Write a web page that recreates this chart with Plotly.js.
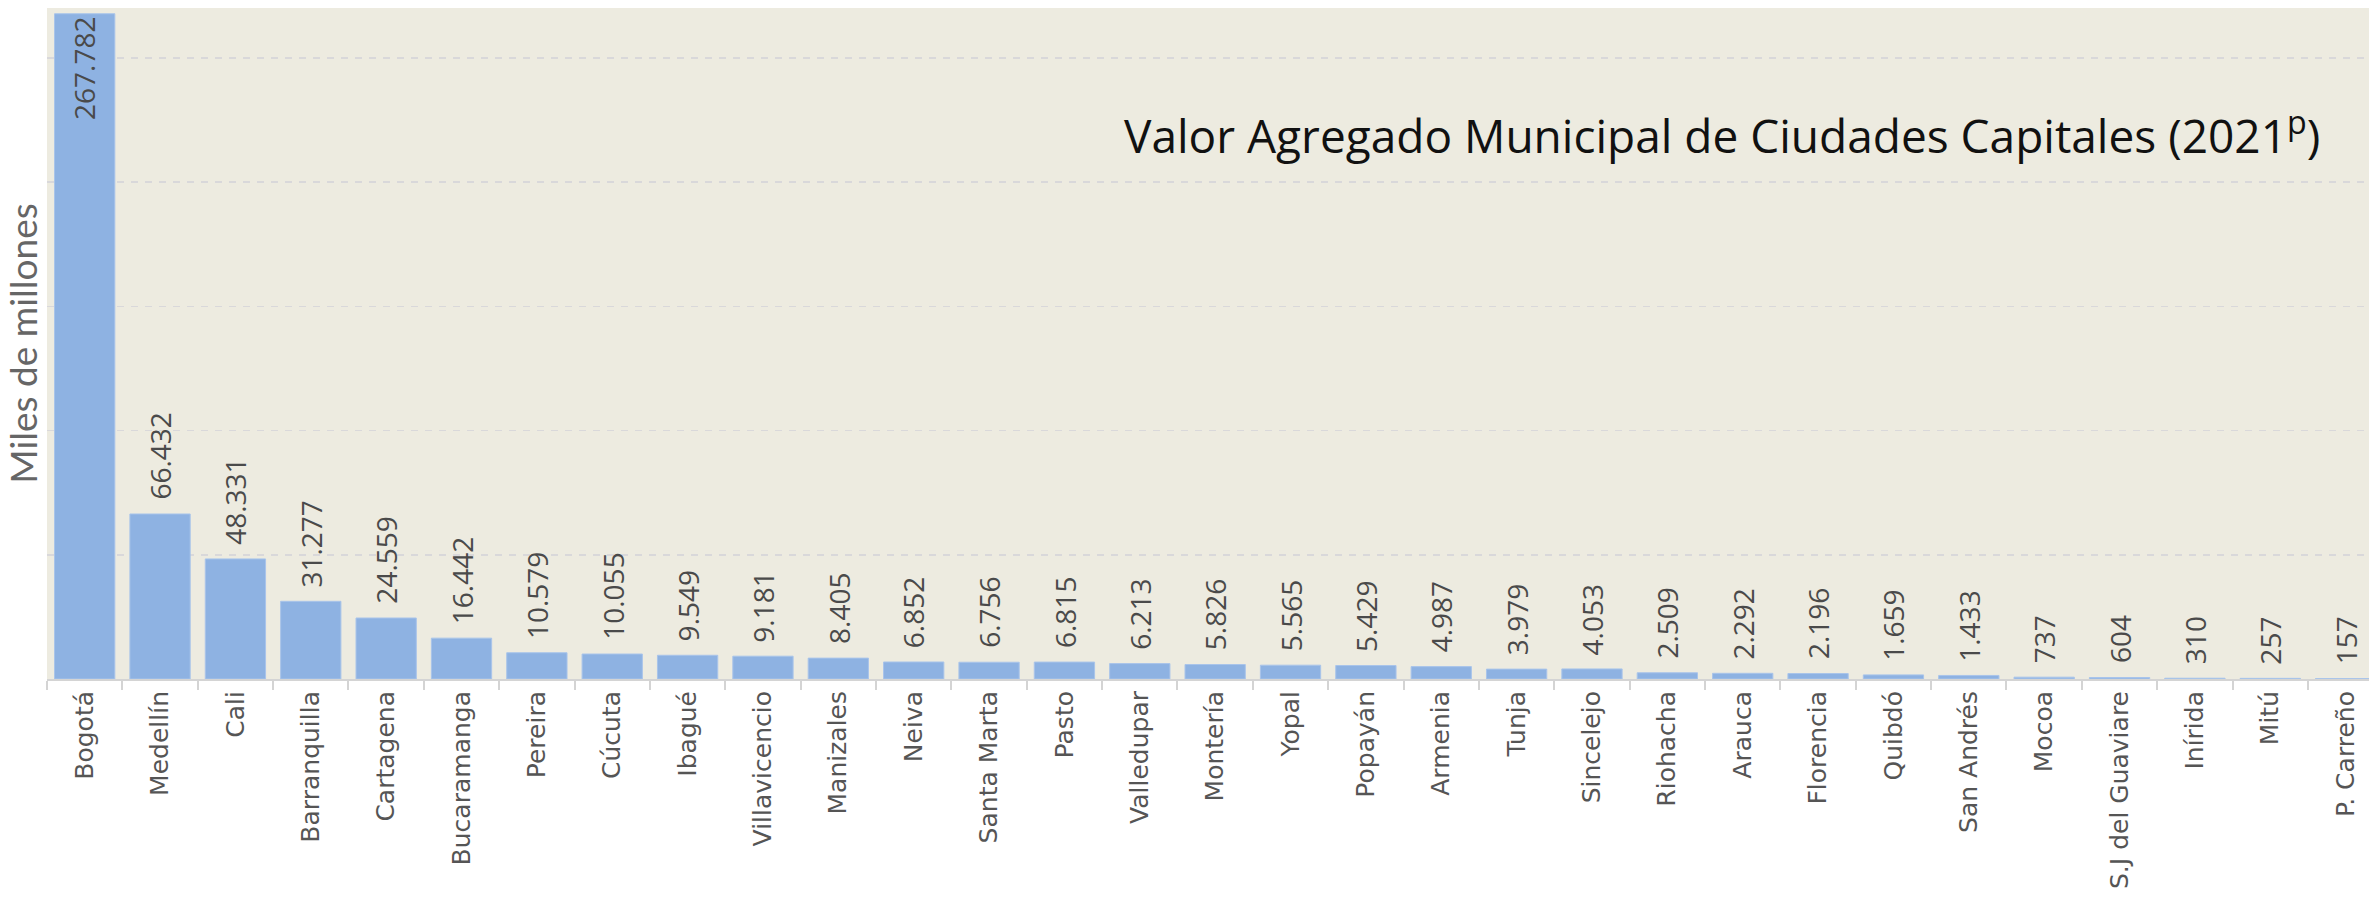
<!DOCTYPE html>
<html>
<head>
<meta charset="utf-8">
<script src="https://cdn.plot.ly/plotly-3.0.1.min.js"></script>
<style>
html,body{margin:0;padding:0;overflow:hidden;background:#fff;}
#chart{width:2369px;height:899px;}
</style>
</head>
<body>
<div id="chart"></div>
<script>
const cities = ["Bogotá","Medellín","Cali","Barranquilla","Cartagena","Bucaramanga","Pereira","Cúcuta","Ibagué","Villavicencio","Manizales","Neiva","Santa Marta","Pasto","Valledupar","Montería","Yopal","Popayán","Armenia","Tunja","Sincelejo","Riohacha","Arauca","Florencia","Quibdó","San Andrés","Mocoa","S.J del Guaviare","Inírida","Mitú","P. Carreño"];
const values = [267782,66432,48331,31277,24559,16442,10579,10055,9549,9181,8405,6852,6756,6815,6213,5826,5565,5429,4987,3979,4053,2509,2292,2196,1659,1433,737,604,310,257,157];
const chartTitle = "Valor Agregado Municipal de Ciudades Capitales (2021<sup>p</sup>)";
const yTitle = "Miles de millones";

const yMax = 270100;
function fmt(v){ return String(v).replace(/\B(?=(\d{3})+(?!\d))/g, "."); }

const labelFont = {family:"Open Sans", size:28, color:"#4a4a4a"};
const annotations = cities.map((c,i)=>{
  const inside = values[i] > yMax*0.8;
  return {
    x: c, y: values[i], xref:"x", yref:"y",
    text: fmt(values[i]), showarrow:false, textangle:-90,
    xanchor:"center", yanchor: inside ? "top" : "bottom",
    yshift: inside ? -1 : 12,
    font: labelFont
  };
});
annotations.push({
  xref:"paper", yref:"paper", x:0.9797, y:0.813,
  xanchor:"right", yanchor:"middle", showarrow:false,
  text: chartTitle,
  font:{family:"Open Sans", size:46, color:"#111"}
});

const trace = {
  type:"bar", x: cities, y: values,
  marker:{color:"#8EB2E2", line:{color:"#A9C4EA", width:1}},
  hoverinfo:"skip"
};

const layout = {
  width:2369, height:899,
  margin:{l:47, r:0, t:8, b:220},
  paper_bgcolor:"#ffffff", plot_bgcolor:"#EDEBE0",
  bargap:0.2,
  showlegend:false,
  xaxis:{
    type:"category", range:[-0.5, 30.31],
    tickangle:-90, tickson:"boundaries", ticks:"outside", ticklen:9, tickwidth:2, tickcolor:"#D4D4D4",
    showline:true, linecolor:"#D4D4D4", linewidth:2,
    showgrid:false, zeroline:false,
    tickfont:{family:"DejaVu Sans", size:25, color:"#555"},
    automargin:false
  },
  yaxis:{
    range:[0, yMax], tick0:0, dtick:50000,
    showticklabels:false, ticks:"", zeroline:false, showline:false,
    showgrid:true, gridcolor:"#D9D8DA", gridwidth:1.5, griddash:"7px,7px",
    title:{text:yTitle, font:{family:"Lato", size:37, color:"#666"}, standoff:0},
    automargin:false
  },
  annotations: annotations
};

Plotly.newPlot("chart", [trace], layout, {displayModeBar:false, staticPlot:true});
</script>
</body>
</html>
